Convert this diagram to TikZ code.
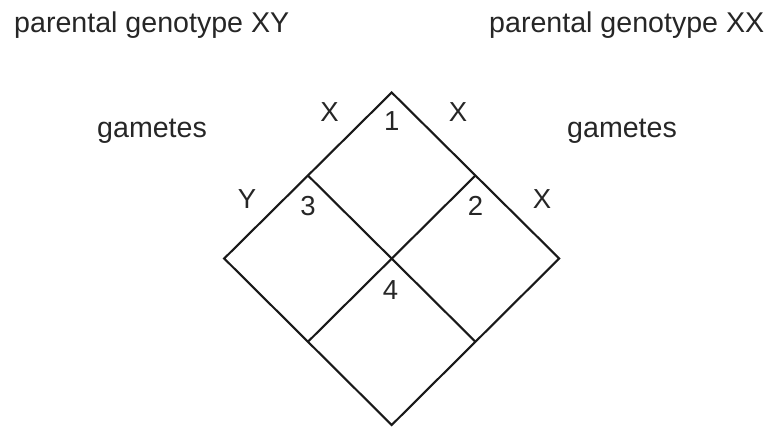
\documentclass[tikz,border=0pt]{standalone}
\usepackage{fontspec}
\setmainfont{Liberation Sans}
\usetikzlibrary{calc}
\tikzset{
  lbl/.style={font=\fontsize{27.5}{30}\selectfont, inner sep=0pt, text=black!85},
  big/.style={font=\fontsize{28.6}{31}\selectfont, inner sep=0pt, text=black!85},
  grid/.style={line width=2.1pt, line join=miter, draw=black!90}
}
\begin{document}
\begin{tikzpicture}[x=1pt,y=-1pt]
\useasboundingbox (0,0) rectangle (773,427);
% diamond corners
\coordinate (T) at (391.7,92.5);
\coordinate (L) at (224.2,258.5);
\coordinate (R) at (559.2,258.5);
\coordinate (B) at (391.7,425);
\coordinate (UL) at ($(T)!0.5!(L)$);
\coordinate (UR) at ($(T)!0.5!(R)$);
\coordinate (LL) at ($(L)!0.5!(B)$);
\coordinate (LR) at ($(R)!0.5!(B)$);
\draw[grid] (T) -- (R) -- (B) -- (L) -- cycle;
\draw[grid] (UL) -- (LR);
\draw[grid] (UR) -- (LL);
% texts
\node[big, anchor=base west] (p1) at (14,33) {parental genotype XY};
\node[big, anchor=base west] (p2) at (489,33) {parental genotype XX};
\node[big, anchor=base west] (g1) at (97,138) {gametes};
\node[big, anchor=base west] (g2) at (567,138) {gametes};
\node[lbl, anchor=base] (x1) at (329.5,121.7) {X};
\node[lbl, anchor=base] (n1) at (391.7,130.7) {1};
\node[lbl, anchor=base] (x2) at (458,121.7) {X};
\node[lbl, anchor=base] (y1) at (247,208.3) {Y};
\node[lbl, anchor=base] (n3) at (308,216) {3};
\node[lbl, anchor=base] (n2) at (475.5,216) {2};
\node[lbl, anchor=base] (x3) at (542,208.3) {X};
\node[lbl, anchor=base] (n4) at (390.5,300) {4};
\end{tikzpicture}
\end{document}
